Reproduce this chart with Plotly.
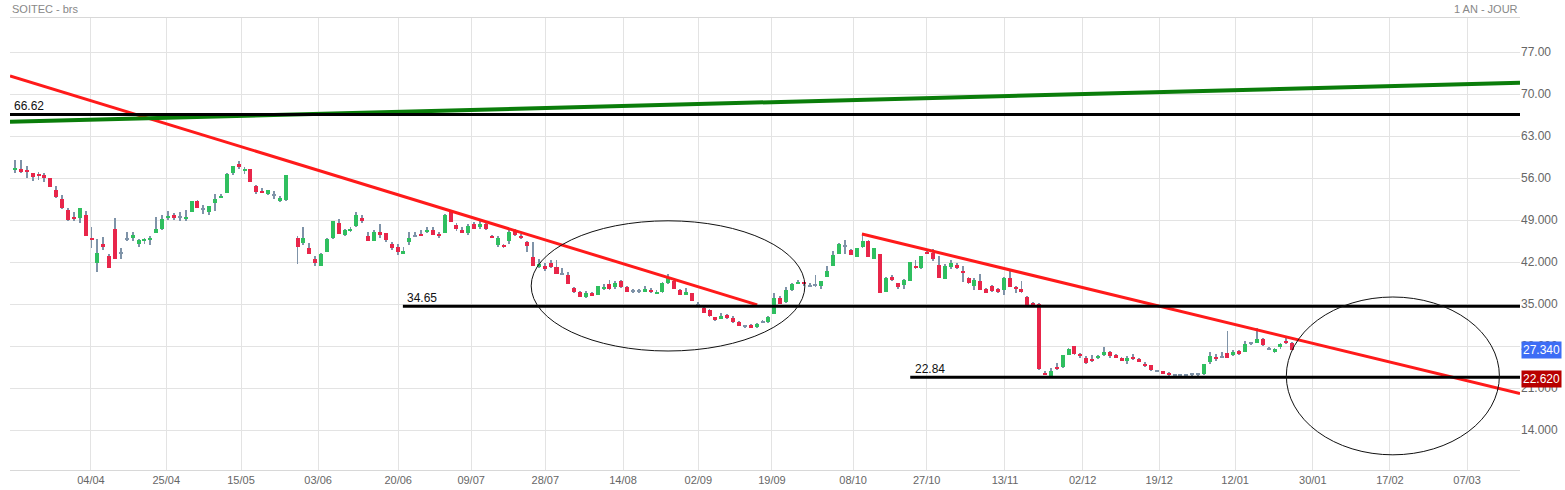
import plotly.graph_objects as go

# daily candles (one year, SOITEC)
opens = [57.4, 57.6, 57.4, 56.8, 56.7, 56.5, 56.0, 54.1, 52.5, 50.7, 49.5, 49.3, 49.8, 46.0, 41.8, 45.0, 43.0, 47.5, 43.5, 45.9,
         46.1, 45.1, 45.7, 45.8, 46.8, 47.6, 49.5, 49.8, 49.5, 49.3, 50.3, 52.2, 50.8, 50.4, 51.8, 52.8, 53.5, 56.9, 58.4, 57.2,
         57.6, 54.7, 53.9, 53.4, 53.2, 52.2, 52.4, 46.1, 45.2, 44.4, 42.5, 41.4, 43.7, 46.1, 48.6, 46.5, 47.2, 48.1, 49.3, 46.4,
         45.6, 47.1, 46.8, 45.1, 44.5, 43.4, 45.3, 46.4, 46.7, 47.1, 47.4, 46.6, 46.8, 50.4, 48.2, 47.3, 46.8, 48.3, 47.8, 48.3,
         46.4, 44.8, 44.9, 45.6, 47.3, 46.4, 45.4, 42.8, 41.2, 41.4, 41.9, 41.2, 40.1, 39.9, 37.7, 37.0, 36.2, 36.8, 36.5, 37.5,
         38.3, 37.8, 38.8, 37.9, 37.2, 37.2, 37.1, 37.4, 36.8, 37.1, 38.6, 38.9, 37.4, 36.7, 36.8, 34.9, 34.3, 34.0, 32.8, 32.7,
         33.2, 32.7, 32.1, 31.4, 31.5, 31.2, 32.1, 32.1, 33.4, 36.1, 35.4, 37.4, 38.4, 38.6, 38.1, 38.2, 38.1, 39.6, 41.3, 43.3,
         44.7, 44.0, 42.8, 44.5, 45.6, 42.5, 43.3, 37.1, 39.5, 38.5, 38.2, 38.9, 41.4, 41.0, 43.7, 43.5, 41.5, 39.2, 41.2, 41.6,
         40.6, 39.3, 38.0, 38.8, 37.5, 38.1, 37.5, 37.4, 39.3, 37.8, 37.6, 36.2, 35.1, 35.1, 23.5, 23.1, 24.6, 24.5, 26.6, 28.0,
         26.7, 26.0, 25.9, 26.1, 26.5, 27.0, 26.5, 26.0, 25.5, 26.2, 25.8, 25.1, 24.8, 23.9, 23.8, 23.6, 23.2, 23.2, 23.2, 23.3,
         23.3, 23.3, 25.3, 26.2, 26.2, 26.9, 26.5, 27.2, 27.1, 28.5, 28.6, 29.2, 27.5, 27.0, 27.8, 28.9, 28.5]
highs = [59.1, 59.0, 58.1, 56.8, 57.0, 56.9, 56.0, 54.7, 53.2, 51.1, 50.4, 51.0, 50.6, 47.8, 45.9, 46.2, 43.4, 49.4, 44.4, 47.0,
         47.0, 45.8, 46.1, 46.3, 49.6, 49.8, 50.6, 50.2, 50.3, 50.7, 52.2, 52.4, 51.6, 51.3, 53.4, 53.4, 56.8, 58.1, 58.8, 57.9,
         57.6, 54.9, 54.3, 54.1, 53.8, 53.1, 56.5, 46.3, 47.8, 45.2, 43.1, 43.5, 46.0, 48.9, 49.2, 47.6, 47.8, 50.3, 49.8, 47.0,
         47.4, 48.3, 46.9, 45.3, 45.1, 44.6, 47.0, 47.0, 47.4, 47.8, 47.8, 47.0, 50.0, 50.7, 48.5, 47.8, 48.4, 48.7, 48.8, 48.9,
         46.6, 46.3, 45.1, 47.3, 47.5, 46.7, 45.6, 45.4, 42.5, 41.8, 42.4, 42.4, 41.1, 40.4, 37.8, 37.2, 37.2, 37.1, 38.1, 38.3,
         39.1, 38.8, 39.0, 38.1, 37.6, 37.5, 38.1, 37.7, 37.3, 38.7, 40.0, 39.4, 37.6, 37.7, 36.9, 35.4, 34.5, 34.2, 32.9, 33.5,
         33.4, 33.1, 32.2, 31.6, 31.7, 31.8, 32.4, 33.1, 36.8, 36.4, 37.8, 38.6, 39.1, 38.7, 38.5, 39.9, 38.9, 41.3, 43.9, 45.2,
         45.7, 44.2, 44.4, 46.9, 45.7, 44.4, 43.3, 39.5, 39.9, 38.6, 39.2, 42.1, 42.4, 43.0, 44.1, 44.2, 43.0, 41.7, 42.4, 41.9,
         41.3, 39.5, 39.3, 40.1, 37.7, 38.2, 37.7, 39.5, 40.7, 38.1, 38.9, 36.3, 35.3, 35.2, 23.8, 24.3, 25.2, 26.6, 27.7, 28.1,
         26.9, 26.3, 26.5, 26.6, 27.9, 27.2, 26.7, 26.2, 26.3, 26.7, 26.0, 25.4, 24.9, 24.1, 23.9, 23.7, 23.4, 23.4, 23.4, 23.4,
         23.4, 25.1, 27.1, 26.7, 27.1, 30.6, 27.4, 27.4, 28.9, 28.7, 31.1, 29.3, 27.9, 27.7, 28.6, 29.3, 28.7]
lows = [56.9, 56.9, 56.1, 55.6, 55.7, 55.3, 54.6, 52.7, 50.8, 48.8, 48.8, 48.6, 46.3, 44.3, 40.4, 44.0, 41.0, 42.6, 42.6, 45.5,
        45.6, 44.5, 45.1, 44.8, 46.8, 47.3, 49.0, 49.1, 48.9, 48.9, 50.3, 51.0, 50.1, 49.8, 50.6, 52.7, 53.5, 56.5, 57.5, 56.7,
        55.3, 53.4, 53.5, 53.2, 52.6, 52.0, 52.2, 41.7, 44.9, 43.4, 41.3, 41.4, 43.7, 45.8, 46.7, 46.4, 47.0, 47.9, 48.5, 45.6,
        45.6, 46.1, 45.4, 44.0, 43.2, 43.3, 44.9, 46.2, 46.4, 46.8, 46.5, 46.0, 46.8, 48.7, 47.2, 46.8, 46.5, 47.5, 47.6, 47.4,
        46.0, 44.6, 44.3, 45.1, 46.3, 45.9, 43.7, 41.3, 41.0, 40.6, 41.0, 40.0, 40.0, 38.4, 36.8, 36.2, 36.1, 36.3, 36.5, 37.3,
        37.3, 37.5, 37.7, 37.1, 36.9, 36.9, 37.0, 36.9, 36.7, 36.9, 38.4, 37.5, 36.5, 36.6, 35.5, 34.6, 33.5, 32.9, 32.2, 32.5,
        32.5, 31.9, 31.3, 31.1, 31.1, 31.1, 31.8, 31.9, 33.4, 35.0, 35.2, 37.2, 38.3, 38.1, 37.8, 37.8, 37.6, 39.5, 41.3, 43.3,
        43.3, 43.2, 42.8, 44.4, 42.8, 42.5, 36.8, 37.0, 38.8, 37.5, 37.6, 38.8, 40.9, 40.9, 43.3, 42.2, 39.4, 39.2, 40.9, 40.8,
        38.7, 38.3, 37.3, 37.3, 36.8, 37.1, 36.8, 36.5, 37.8, 36.9, 36.9, 34.7, 34.6, 24.1, 23.2, 23.0, 24.1, 24.4, 26.5, 26.6,
        26.1, 25.1, 25.3, 25.9, 26.3, 26.1, 26.0, 25.6, 25.1, 25.7, 25.3, 24.5, 23.9, 23.7, 23.3, 23.1, 23.0, 23.0, 23.0, 23.1,
        23.1, 23.2, 25.1, 25.6, 26.0, 26.0, 26.3, 26.6, 27.0, 28.2, 28.5, 28.1, 27.3, 26.8, 27.6, 28.4, 27.3]
closes = [57.7, 57.0, 57.0, 56.2, 56.3, 56.0, 54.6, 52.9, 51.1, 49.0, 49.3, 51.0, 46.3, 45.8, 43.6, 44.6, 41.0, 42.6, 43.5, 45.9,
          46.5, 45.7, 45.9, 46.1, 47.6, 49.2, 49.7, 49.3, 49.5, 49.5, 52.2, 51.0, 50.8, 51.3, 52.5, 53.1, 56.7, 58.0, 57.9, 57.6,
          55.3, 53.7, 53.6, 54.0, 53.2, 52.7, 56.5, 44.5, 46.0, 43.4, 41.8, 43.4, 45.8, 48.9, 46.7, 47.3, 47.6, 49.8, 48.8, 45.6,
          47.1, 46.5, 45.7, 44.3, 43.7, 43.9, 46.1, 46.4, 46.5, 47.4, 46.6, 46.4, 49.9, 48.7, 47.5, 46.8, 48.0, 47.5, 48.4, 47.5,
          46.2, 46.0, 44.5, 47.1, 46.5, 46.2, 44.7, 41.4, 41.7, 40.8, 41.2, 40.0, 40.1, 38.4, 37.0, 36.2, 36.8, 36.5, 38.0, 37.9,
          37.5, 38.5, 37.9, 37.1, 37.2, 37.2, 37.6, 37.0, 37.1, 38.5, 39.3, 37.5, 36.6, 37.0, 35.5, 34.9, 33.6, 33.0, 32.4, 33.0,
          32.7, 32.0, 31.3, 31.4, 31.2, 31.7, 32.1, 32.9, 36.1, 35.1, 37.3, 38.4, 38.6, 38.4, 38.1, 38.2, 38.9, 40.5, 43.2, 45.1,
          44.7, 43.2, 44.3, 45.6, 42.8, 44.3, 36.8, 39.4, 39.1, 37.8, 39.0, 42.1, 41.2, 43.0, 43.5, 42.6, 39.4, 41.4, 41.9, 41.0,
          40.2, 38.6, 39.0, 37.4, 36.9, 37.2, 37.0, 39.4, 37.9, 37.6, 37.1, 34.9, 34.9, 24.2, 23.3, 23.9, 24.3, 26.6, 27.6, 26.7,
          26.3, 25.2, 25.5, 26.4, 27.1, 26.3, 26.2, 25.7, 26.0, 25.9, 25.5, 24.7, 24.0, 23.9, 23.5, 23.3, 23.2, 23.2, 23.2, 23.3,
          23.3, 25.0, 26.3, 25.8, 26.2, 26.1, 27.1, 26.7, 28.4, 28.5, 29.2, 28.2, 27.5, 27.5, 28.4, 28.5, 27.34]

# trading-day index (one missing session after the 47th candle)
day_index = list(range(47)) + list(range(48, 48 + len(opens) - 47))

date_ticks = [12.9, 25.7, 38.4, 51.5, 65.1, 77.5, 90.1, 103.3, 116.1, 128.6,
              142.4, 154.9, 168.2, 181.4, 194.4, 207.3, 220.5, 233.6, 246.7]
date_labels = ["04/04", "25/04", "15/05", "03/06", "20/06", "09/07", "28/07", "14/08", "02/09", "19/09",
               "08/10", "27/10", "13/11", "02/12", "19/12", "12/01", "30/01", "17/02", "07/03"]
price_ticks = [14, 21, 28, 35, 42, 49, 56, 63, 70, 77]
price_labels = ["14.000", "21.000", "28.000", "35.000", "42.000", "49.000", "56.00", "63.00", "70.00", "77.00"]

# hand-drawn analysis objects
X_MIN, X_MAX = -0.85, 255.7
trend_lines = [(X_MIN, 73.05, 126.1, 34.9, "#ff1a1a", 3),
               (143.9, 46.7, X_MAX, 20.1, "#ff1a1a", 3),
               (X_MIN, 65.4, X_MAX, 71.9, "#0a7d0a", 4)]
levels = [(X_MIN, 66.62, "66.62"), (65.9, 34.65, "34.65"), (152.1, 22.84, "22.84")]
ellipses = [(87.7, 27.2, 134.2, 48.9), (216.0, 9.9, 252.2, 36.2)]
last_price = 27.34
support_price = 22.62

UP, DOWN, WICK = "#2fbf5f", "#e8264a", "#7f93a8"

fig = go.Figure()
# wicks: thin bars low -> high
fig.add_trace(go.Bar(
    x=day_index, y=[h - l for h, l in zip(highs, lows)], base=lows, width=0.15,
    marker=dict(color=WICK, line=dict(width=0)), showlegend=False, hoverinfo="skip",
))
# bodies (doji drawn as a short grey tick)
body_len = [max(abs(c - o), 0.15) for o, c in zip(opens, closes)]
body_base = [min(o, c) - (0.075 if o == c else 0) for o, c in zip(opens, closes)]
body_col = [WICK if c == o else (UP if c > o else DOWN) for o, c in zip(opens, closes)]
fig.add_trace(go.Bar(
    x=day_index, y=body_len, base=body_base, width=0.68,
    marker=dict(color=body_col, line=dict(width=0)), showlegend=False, hoverinfo="skip",
))

for x0, y0, x1, y1, col, w in trend_lines:
    fig.add_shape(type="line", x0=x0, y0=y0, x1=x1, y1=y1, line=dict(color=col, width=w))

for x0, y, label in levels:
    fig.add_shape(type="line", x0=x0, y0=y, x1=X_MAX, y1=y, line=dict(color="black", width=3))
    fig.add_annotation(x=x0 + 0.4, y=y, text=label, showarrow=False, xanchor="left", yanchor="bottom",
                       yshift=-1, font=dict(size=12, color="#111"))

for x0, y0, x1, y1 in ellipses:
    fig.add_shape(type="circle", x0=x0, y0=y0, x1=x1, y1=y1, line=dict(color="#111", width=1))

for val, bg in [(last_price, "#3d6df5"), (support_price, "#b80000")]:
    fig.add_annotation(xref="paper", x=1.0, y=val, text=f"{val:.3f}", showarrow=False, xanchor="left",
                       xshift=1, bgcolor=bg, font=dict(size=12, color="white", family="Arial"),
                       borderpad=1)

fig.add_annotation(xref="paper", yref="paper", x=0, y=1, text="SOITEC - brs", showarrow=False,
                   xanchor="left", yanchor="bottom", yshift=1, font=dict(size=11, color="#888"))
fig.add_annotation(xref="paper", yref="paper", x=1, y=1, text="1 AN - JOUR", showarrow=False,
                   xanchor="right", yanchor="bottom", yshift=1, font=dict(size=11, color="#888"))

fig.update_layout(
    width=1565, height=490,
    margin=dict(l=10, r=45, t=18, b=20, autoexpand=False),
    paper_bgcolor="white", plot_bgcolor="white", barmode="overlay", bargap=0,
    font=dict(family="Arial, Liberation Sans, sans-serif", size=11, color="#666"),
    xaxis=dict(range=[X_MIN, X_MAX], tickvals=date_ticks, ticktext=date_labels,
               showgrid=True, gridcolor="#e3e3e3", showline=True, linecolor="#d8d8d8", mirror=True,
               zeroline=False, ticks="", automargin=False, tickfont=dict(size=11, color="#666")),
    yaxis=dict(range=[7.37, 82.7], side="right", tickvals=price_ticks, ticktext=price_labels,
               showgrid=True, gridcolor="#e3e3e3", zeroline=False, showline=False, automargin=False,
               ticks="", tickfont=dict(size=12, color="#666")),
)

fig.write_html("out.html", config={"displayModeBar": False},
               post_script="document.body.style.margin='0';")
